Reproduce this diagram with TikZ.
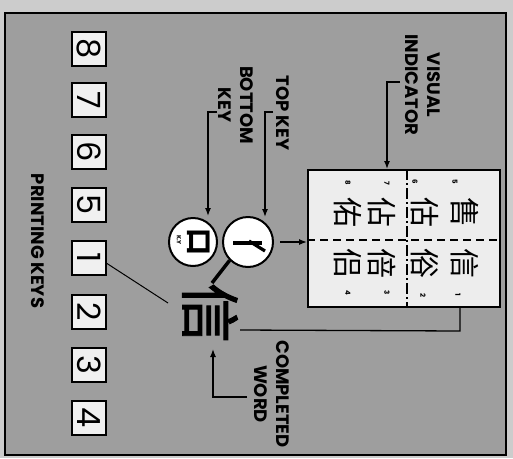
\documentclass[tikz,border=0pt]{standalone}
\usepackage{fontspec}
\newfontfamily\lab{Poppins}
\newfontfamily\cjk{Noto Sans CJK SC}
\newfontfamily\cjkbig{Noto Sans CJK SC}[FakeBold=1.6]
\usetikzlibrary{arrows.meta,calc}
\begin{document}
\begin{tikzpicture}[x=1pt,y=-1pt,
  arr/.style={line width=1.3pt,-{Latex[length=8pt,width=6pt]}},
  thinline/.style={line width=1.3pt},
  lbl/.style={font=\lab\bfseries\fontsize{18}{22}\selectfont, rotate=-90, align=center, inner sep=0pt},
  pkey/.style={draw, line width=2pt, fill=black!6, minimum width=34pt, minimum height=34pt, inner sep=0pt, rotate=-90, font=\lab\fontsize{32}{32}\selectfont},
  keycirc/.style={draw, circle, line width=2pt, fill=white, inner sep=0pt},
  cjkch/.style={font=\cjk\fontsize{30}{30}\selectfont, rotate=-90, inner sep=0pt},
  smallnum/.style={font=\lab\bfseries\fontsize{7}{7}\selectfont, rotate=-90, inner sep=0pt},
  divline/.style={line width=2pt, dash pattern=on 8pt off 5pt}
]
\useasboundingbox (0,0) rectangle (513,458);
% background
\fill[black!20] (0,0) rectangle (513,458);
\fill[black!38] (5,13) rectangle (506,455);
\draw[line width=2pt] (5,13) rectangle (506,455);

% printing keys
\node[pkey] (k8) at (89,48.5) {8};
\node[pkey] (k7) at (89,100) {7};
\node[pkey] (k6) at (89,151.5) {6};
\node[pkey] (k5) at (89,205) {5};
\node[pkey] (k1) at (89,257.5) {1};
\node[pkey] (k2) at (89,311.5) {2};
\node[pkey] (k3) at (89,364.5) {3};
\node[pkey] (k4) at (89,417.5) {4};
\node[lbl] (lpk) at (38,241) {PRINTING KEYS};

% visual indicator box
\node[draw, line width=2pt, fill=black!7, minimum width=192pt, minimum height=137pt, inner sep=0pt] (box) at (404,238.5) {};
\draw[divline] ($(box.west)+(0,1.5)$) -- ($(box.east)+(0,1.5)$);
\draw[line width=2pt, dash pattern=on 11pt off 3pt on 2pt off 3pt] ($(box.north)+(3,0)$) -- ($(box.south)+(3,0)$);

% characters in indicator
\node[cjkch] (t1) at (465,212) {售};
\node[cjkch] (t2) at (425,212) {估};
\node[cjkch] (t3) at (382,212) {佔};
\node[cjkch] (t4) at (348,212) {佑};
\node[cjkch] (b1) at (465,263) {信};
\node[cjkch] (b2) at (425,263) {俗};
\node[cjkch] (b3) at (382,263) {倍};
\node[cjkch] (b4) at (348,263) {侣};
\node[smallnum] (n5) at (455,182) {5};
\node[smallnum] (n6) at (415,182) {6};
\node[smallnum] (n7) at (387,183) {7};
\node[smallnum] (n8) at (348,183) {8};
\node[smallnum] (n1) at (458,295) {1};
\node[smallnum] (n2) at (423,295) {2};
\node[smallnum] (n3) at (387,293) {3};
\node[smallnum] (n4) at (348,293) {4};

% key circles
\node[keycirc, minimum size=50pt] (c1) at (248,242) {};
\draw[line width=3.2pt] ($(c1.center)+(-15,1)$) -- ($(c1.center)+(14,1)$);
\draw[line width=3.2pt] ($(c1.center)+(1,-1)$) -- ($(c1.center)+(17,9)$);
\node[keycirc, minimum size=48pt] (c2) at (193,242) {};
\node[font=\cjk\bfseries\fontsize{27}{27}\selectfont, rotate=-90, inner sep=0pt] (kou) at (199,242) {口};
\node[font=\lab\bfseries\fontsize{6}{6}\selectfont, rotate=-90, inner sep=0pt] (ky) at (179,240) {K.Y};

% completed word
\node[font=\cjkbig\fontsize{60}{60}\selectfont, rotate=-90, inner sep=0pt] (big) at (210,313) {信};
\coordinate (bigtop) at (212,283);
\coordinate (bigleft) at (168,303);
\coordinate (bigright) at (240,330);
\coordinate (bigbot) at (213,349);

% labels
\node[lbl] (lvi) at (422.5,85) {VISUAL\\INDICATOR};
\node[lbl] (ltk) at (283,113) {TOP KEY};
\node[lbl] (lbk) at (236,105) {BOTTOM\\KEY};
\node[lbl] (lcw) at (272,394) {COMPLETED\\WORD};

% connectors
\coordinate (vi0) at (400,82);
\coordinate (vi1) at (387,82);
\draw[arr] (vi0) -- (vi1) -- (vi1 |- box.north);
\coordinate (tk0) at (273,112);
\draw[arr] (tk0) -- (265,112) -- (265,217);
\coordinate (bk0) at (217,112);
\draw[arr] (bk0) -- (208,112) -- (208,216);
\draw[arr, shorten <=6pt] (c1.east) -- (c1.east -| box.west);
\draw[line width=3.5pt] (c1.225) -- (bigtop);
\draw[line width=1pt] ($(k1.north)+(0,6)$) -- (bigleft);
\draw[thinline] ($(box.south east)+(-41,0)$) -- ++(0,23) -- (bigright);
\coordinate (cw0) at (247,397);
\draw[arr] (cw0) -- (213,397) -- (bigbot);
\end{tikzpicture}
\end{document}
